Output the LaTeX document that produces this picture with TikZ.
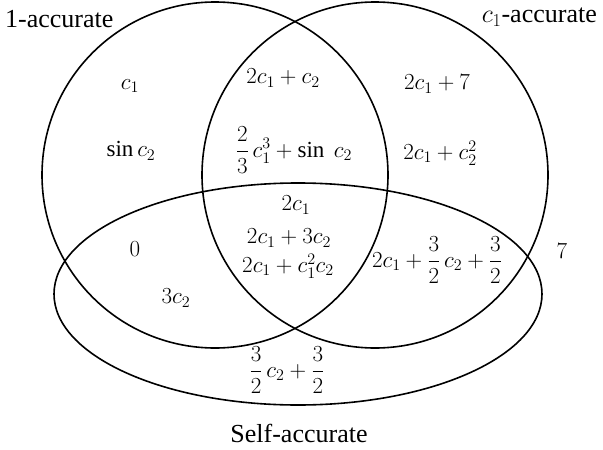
\RequirePackage{fix-cm}
\documentclass[tikz,border=0pt]{standalone}
\usepackage{amsmath}
\usepackage{fontspec}
\setmainfont{Liberation Serif}
\usetikzlibrary{shapes.geometric}
\begin{document}
\begin{tikzpicture}[x=1pt,y=-1pt,
  setline/.style={draw=black,line width=1.6pt,inner sep=0pt},
  lbl/.style={font=\fontsize{26}{30}\selectfont,inner sep=0pt},
  val/.style={font=\fontsize{23}{27}\selectfont,inner sep=0pt}]
\useasboundingbox (0,0) rectangle (603,450);
% sets
\node[setline,circle,minimum size=346pt] (one) at (215,175) {};
\node[setline,circle,minimum size=346pt] (cone) at (375,175) {};
\node[setline,ellipse,minimum width=488pt,minimum height=222pt] (self) at (298,294) {};
% set labels
\node[lbl,anchor=west] (lone) at (5,19) {1-accurate};
\node[lbl,anchor=east] (lcone) at (597,17) {$c_1$-accurate};
\node[lbl] (lself) at (299,433) {Self-accurate};
% values
\node[val] (v1) at (130,86) {$c_1$};
\node[val] (v2) at (131,151) {$\sin c_2$};
\node[val] (v3) at (283,78) {$2c_1+c_2$};
\node[val] (v4) at (294,150) {$\dfrac{2}{3}\,c_1^3+\sin\ c_2$};
\node[val] (v5) at (437,84) {$2c_1+7$};
\node[val] (v6) at (440,153) {$2c_1+c_2^2$};
\node[val] (v7) at (296,205) {$2c_1$};
\node[val] (v8) at (289,238) {$2c_1+3c_2$};
\node[val] (v9) at (288,266) {$2c_1+c_1^2c_2$};
\node[val] (v10) at (135,249) {$0$};
\node[val] (v11) at (176,298) {$3c_2$};
\node[val] (v12) at (437,260) {$2c_1+\dfrac{3}{2}\,c_2+\dfrac{3}{2}$};
\node[val] (v13) at (562,251) {$7$};
\node[val] (v14) at (287,370) {$\dfrac{3}{2}\,c_2+\dfrac{3}{2}$};
\end{tikzpicture}
\end{document}
